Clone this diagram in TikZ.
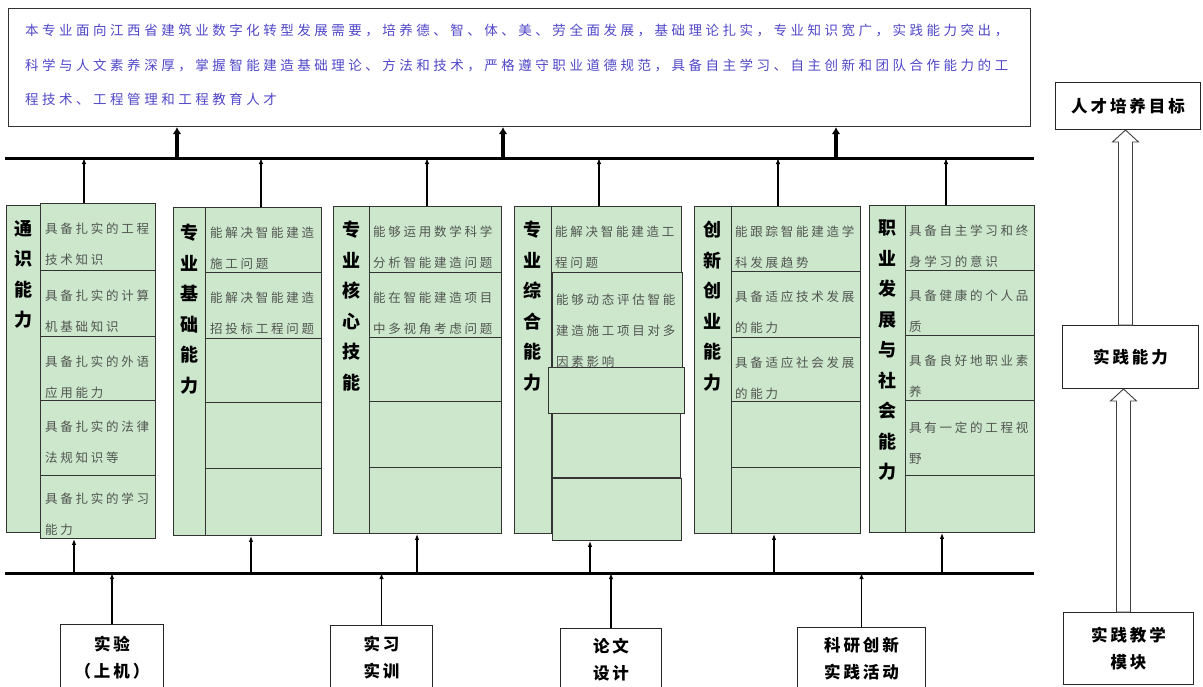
\documentclass[tikz,border=0pt]{standalone}
\usepackage{fontspec}
\setmainfont{Noto Sans CJK SC}
\usetikzlibrary{arrows.meta,calc,positioning}
\definecolor{cellgreen}{RGB}{205,231,205}
\definecolor{aimblue}{RGB}{80,70,200}
\definecolor{itemgrey}{RGB}{80,85,80}

% hollow block arrow, tail anchor #1, tip anchor #2
\newcommand\hollowup[2]{%
  \draw[hollow] let \p1=($(#1)+(-5,0)$), \p2=(#2) in
    (\x1-7pt,\y1) -- (\x1-7pt,\y2-12pt) -- (\x1-13pt,\y2-12pt) -- (\x1,\y2)
    -- (\x1+13pt,\y2-12pt) -- (\x1+7pt,\y2-12pt) -- (\x1+7pt,\y1) -- cycle;}

\begin{document}
\begin{tikzpicture}[x=1pt, y=-1pt,
  cell/.style={draw=black!80, fill=cellgreen, line width=0.9pt, inner sep=0pt, anchor=north west},
  itemtext/.style={anchor=north west, inner sep=0pt, align=left, text=itemgrey,
    font=\fontsize{12.5}{31}\selectfont\addfontfeatures{LetterSpace=22}},
  vlabel/.style={anchor=north, inner sep=0pt, align=center,
    font=\bfseries\fontsize{18}{30.5}\selectfont},
  plainbox/.style={draw=black!85, fill=white, line width=1pt, anchor=north west, align=center,
    font=\bfseries\fontsize{16.5}{27}\selectfont\addfontfeatures{LetterSpace=18}},
  bus/.style={line width=3pt},
  thinarrow/.style={line width=1.4pt, -{Latex[length=6pt,width=4.5pt]}},
  thickarrow/.style={line width=4pt, -{Latex[length=7pt,width=9pt]}},
  hollow/.style={draw=black!75, fill=white, line width=0.9pt},
]
\useasboundingbox (0,0) rectangle (1203,686);

\node[draw=black!80, line width=1.2pt, minimum width=1022, minimum height=118,
  anchor=north west, inner sep=0pt] (aim) at (8,8) {};
\node[anchor=north west, inner sep=0pt, align=left, text=aimblue,
  font=\fontsize{13.5}{34.5}\selectfont\addfontfeatures{LetterSpace=26}] (aimtext) at (25,24)
  {本专业面向江西省建筑业数字化转型发展需要，培养德、智、体、美、劳全面发展，基础理论扎实，专业知识宽广，实践能力突出，\\
   科学与人文素养深厚，掌握智能建造基础理论、方法和技术，严格遵守职业道德规范，具备自主学习、自主创新和团队合作能力的工\\
   程技术、工程管理和工程教育人才};

\coordinate (ubusL) at (5,158);
\coordinate (ubusR) at (1034,158);
\coordinate (dbusL) at (5,573);
\coordinate (dbusR) at (1034,573);
\draw[bus] (ubusL) -- (ubusR);
\draw[bus] (dbusL) -- (dbusR);

\foreach \n/\x in {1/177, 2/503, 3/836}{
  \coordinate (g\n) at (\x,158);
  \draw[thickarrow] (g\n) -- (g\n |- aim.south);
}

% column 1
\node[cell, minimum width=34, minimum height=327] (c1) at (6,205) {};
\foreach \r/\t/\h in {a/203/67, b/270/66, c/336/64, d/400/75, e/475/63}
  \node[cell, minimum width=115, minimum height=\h] (c1\r) at (40,\t) {};
\node[vlabel] (l1) at ($(c1.north)+(0,15)$) {通\\识\\能\\力};
\node[itemtext] (t1a) at ($(c1a.north west)+(5,20)$) {具备扎实的工程\\技术知识};
\node[itemtext] (t1b) at ($(c1b.north west)+(5,20)$) {具备扎实的计算\\机基础知识};
\node[itemtext] (t1c) at ($(c1c.north west)+(5,20)$) {具备扎实的外语\\应用能力};
\node[itemtext] (t1d) at ($(c1d.north west)+(5,21)$) {具备扎实的法律\\法规知识等};
\node[itemtext] (t1e) at ($(c1e.north west)+(5,18)$) {具备扎实的学习\\能力};

% column 2
\node[cell, minimum width=32, minimum height=328] (c2) at (173,207) {};
\foreach \r/\t/\h in {a/207/65, b/272/66, c/338/64, d/402/66, e/468/67}
  \node[cell, minimum width=116, minimum height=\h] (c2\r) at (205,\t) {};
\node[vlabel] (l2) at ($(c2.north)+(0,17)$) {专\\业\\基\\础\\能\\力};
\node[itemtext] (t2a) at ($(c2a.north west)+(5,20)$) {能解决智能建造\\施工问题};
\node[itemtext] (t2b) at ($(c2b.north west)+(5,20)$) {能解决智能建造\\招投标工程问题};

% column 3
\node[cell, minimum width=36, minimum height=327] (c3) at (333,206) {};
\foreach \r/\t/\h in {a/206/66, b/272/65, c/337/64, d/401/66, e/467/66}
  \node[cell, minimum width=132, minimum height=\h] (c3\r) at (369,\t) {};
\node[vlabel] (l3) at ($(c3.north)+(0,15)$) {专\\业\\核\\心\\技\\能};
\node[itemtext] (t3a) at ($(c3a.north west)+(4,20)$) {能够运用数学科学\\分析智能建造问题};
\node[itemtext] (t3b) at ($(c3b.north west)+(4,20)$) {能在智能建造项目\\中多视角考虑问题};

% column 4
\node[cell, minimum width=37, minimum height=327] (c4) at (514,206) {};
\node[cell, minimum width=130, minimum height=66] (c4a) at (551,206) {};
\node[cell, minimum width=130, minimum height=95] (c4b) at (552,272) {};
\node[cell, minimum width=136, minimum height=46] (c4c) at (548,367) {};
\node[cell, minimum width=128, minimum height=64] (c4d) at (552,413) {};
\node[cell, minimum width=129, minimum height=62] (c4e) at (552,478) {};
\node[vlabel] (l4) at ($(c4.north)+(0,15)$) {专\\业\\综\\合\\能\\力};
\node[itemtext] (t4a) at ($(c4a.north west)+(4,20)$) {能解决智能建造工\\程问题};
\node[itemtext] (t4b) at ($(c4b.north west)+(4,22)$) {能够动态评估智能\\建造施工项目对多\\因素影响};

% column 5
\node[cell, minimum width=37, minimum height=327] (c5) at (694,206) {};
\foreach \r/\t/\h in {a/206/65, b/271/66, c/337/64, d/401/66, e/467/66}
  \node[cell, minimum width=129, minimum height=\h] (c5\r) at (731,\t) {};
\node[vlabel] (l5) at ($(c5.north)+(0,15)$) {创\\新\\创\\业\\能\\力};
\node[itemtext] (t5a) at ($(c5a.north west)+(4,20)$) {能跟踪智能建造学\\科发展趋势};
\node[itemtext] (t5b) at ($(c5b.north west)+(4,20)$) {具备适应技术发展\\的能力};
\node[itemtext] (t5c) at ($(c5c.north west)+(4,20)$) {具备适应社会发展\\的能力};

% column 6
\node[cell, minimum width=36, minimum height=327] (c6) at (869,205) {};
\foreach \r/\t/\h in {a/205/65, b/270/65, c/335/65, d/400/75, e/475/57}
  \node[cell, minimum width=129, minimum height=\h] (c6\r) at (905,\t) {};
\node[vlabel] (l6) at ($(c6.north)+(0,15)$) {职\\业\\发\\展\\与\\社\\会\\能\\力};
\node[itemtext] (t6a) at ($(c6a.north west)+(4,20)$) {具备自主学习和终\\身学习的意识};
\node[itemtext] (t6b) at ($(c6b.north west)+(4,20)$) {具备健康的个人品\\质};
\node[itemtext] (t6c) at ($(c6c.north west)+(4,20)$) {具备良好地职业素\\养};
\node[itemtext] (t6d) at ($(c6d.north west)+(4,22)$) {具有一定的工程视\\野};

% columns to the buses
\foreach \n/\u/\d in {1/84/74, 2/261/251, 3/427/417, 4/599/590, 5/778/774, 6/946/942}{
  \coordinate (u\n) at (\u,158);
  \coordinate (d\n) at (\d,573);
  \draw[thinarrow] (u\n |- c\n a.north) -- (u\n);
  \draw[thinarrow] (d\n) -- (d\n |- c\n e.south);
}

% practice modules
\node[plainbox, minimum width=103, minimum height=66] (lab) at (60,624) {实验\\（上机）};
\node[plainbox, minimum width=102, minimum height=65] (train) at (330,625) {实习\\实训};
\node[plainbox, minimum width=101, minimum height=62] (thesis) at (560,628) {论文\\设计};
\node[plainbox, minimum width=128, minimum height=63] (research) at (797,627) {科研创新\\实践活动};
\foreach \b in {lab, train, thesis, research}
  \draw[thinarrow] (\b.north) -- (\b.north |- dbusL);

% right side
\node[plainbox, minimum width=145, minimum height=47] (target) at (1055,82) {人才培养目标};
\node[plainbox, minimum width=136, minimum height=63] (ability) at (1062,325) {实践能力};
\node[plainbox, minimum width=130, minimum height=72] (module) at (1063,612) {实践教学\\模块};
\hollowup{ability.north}{target.south}
\hollowup{module.north}{ability.south}
\end{tikzpicture}
\end{document}
